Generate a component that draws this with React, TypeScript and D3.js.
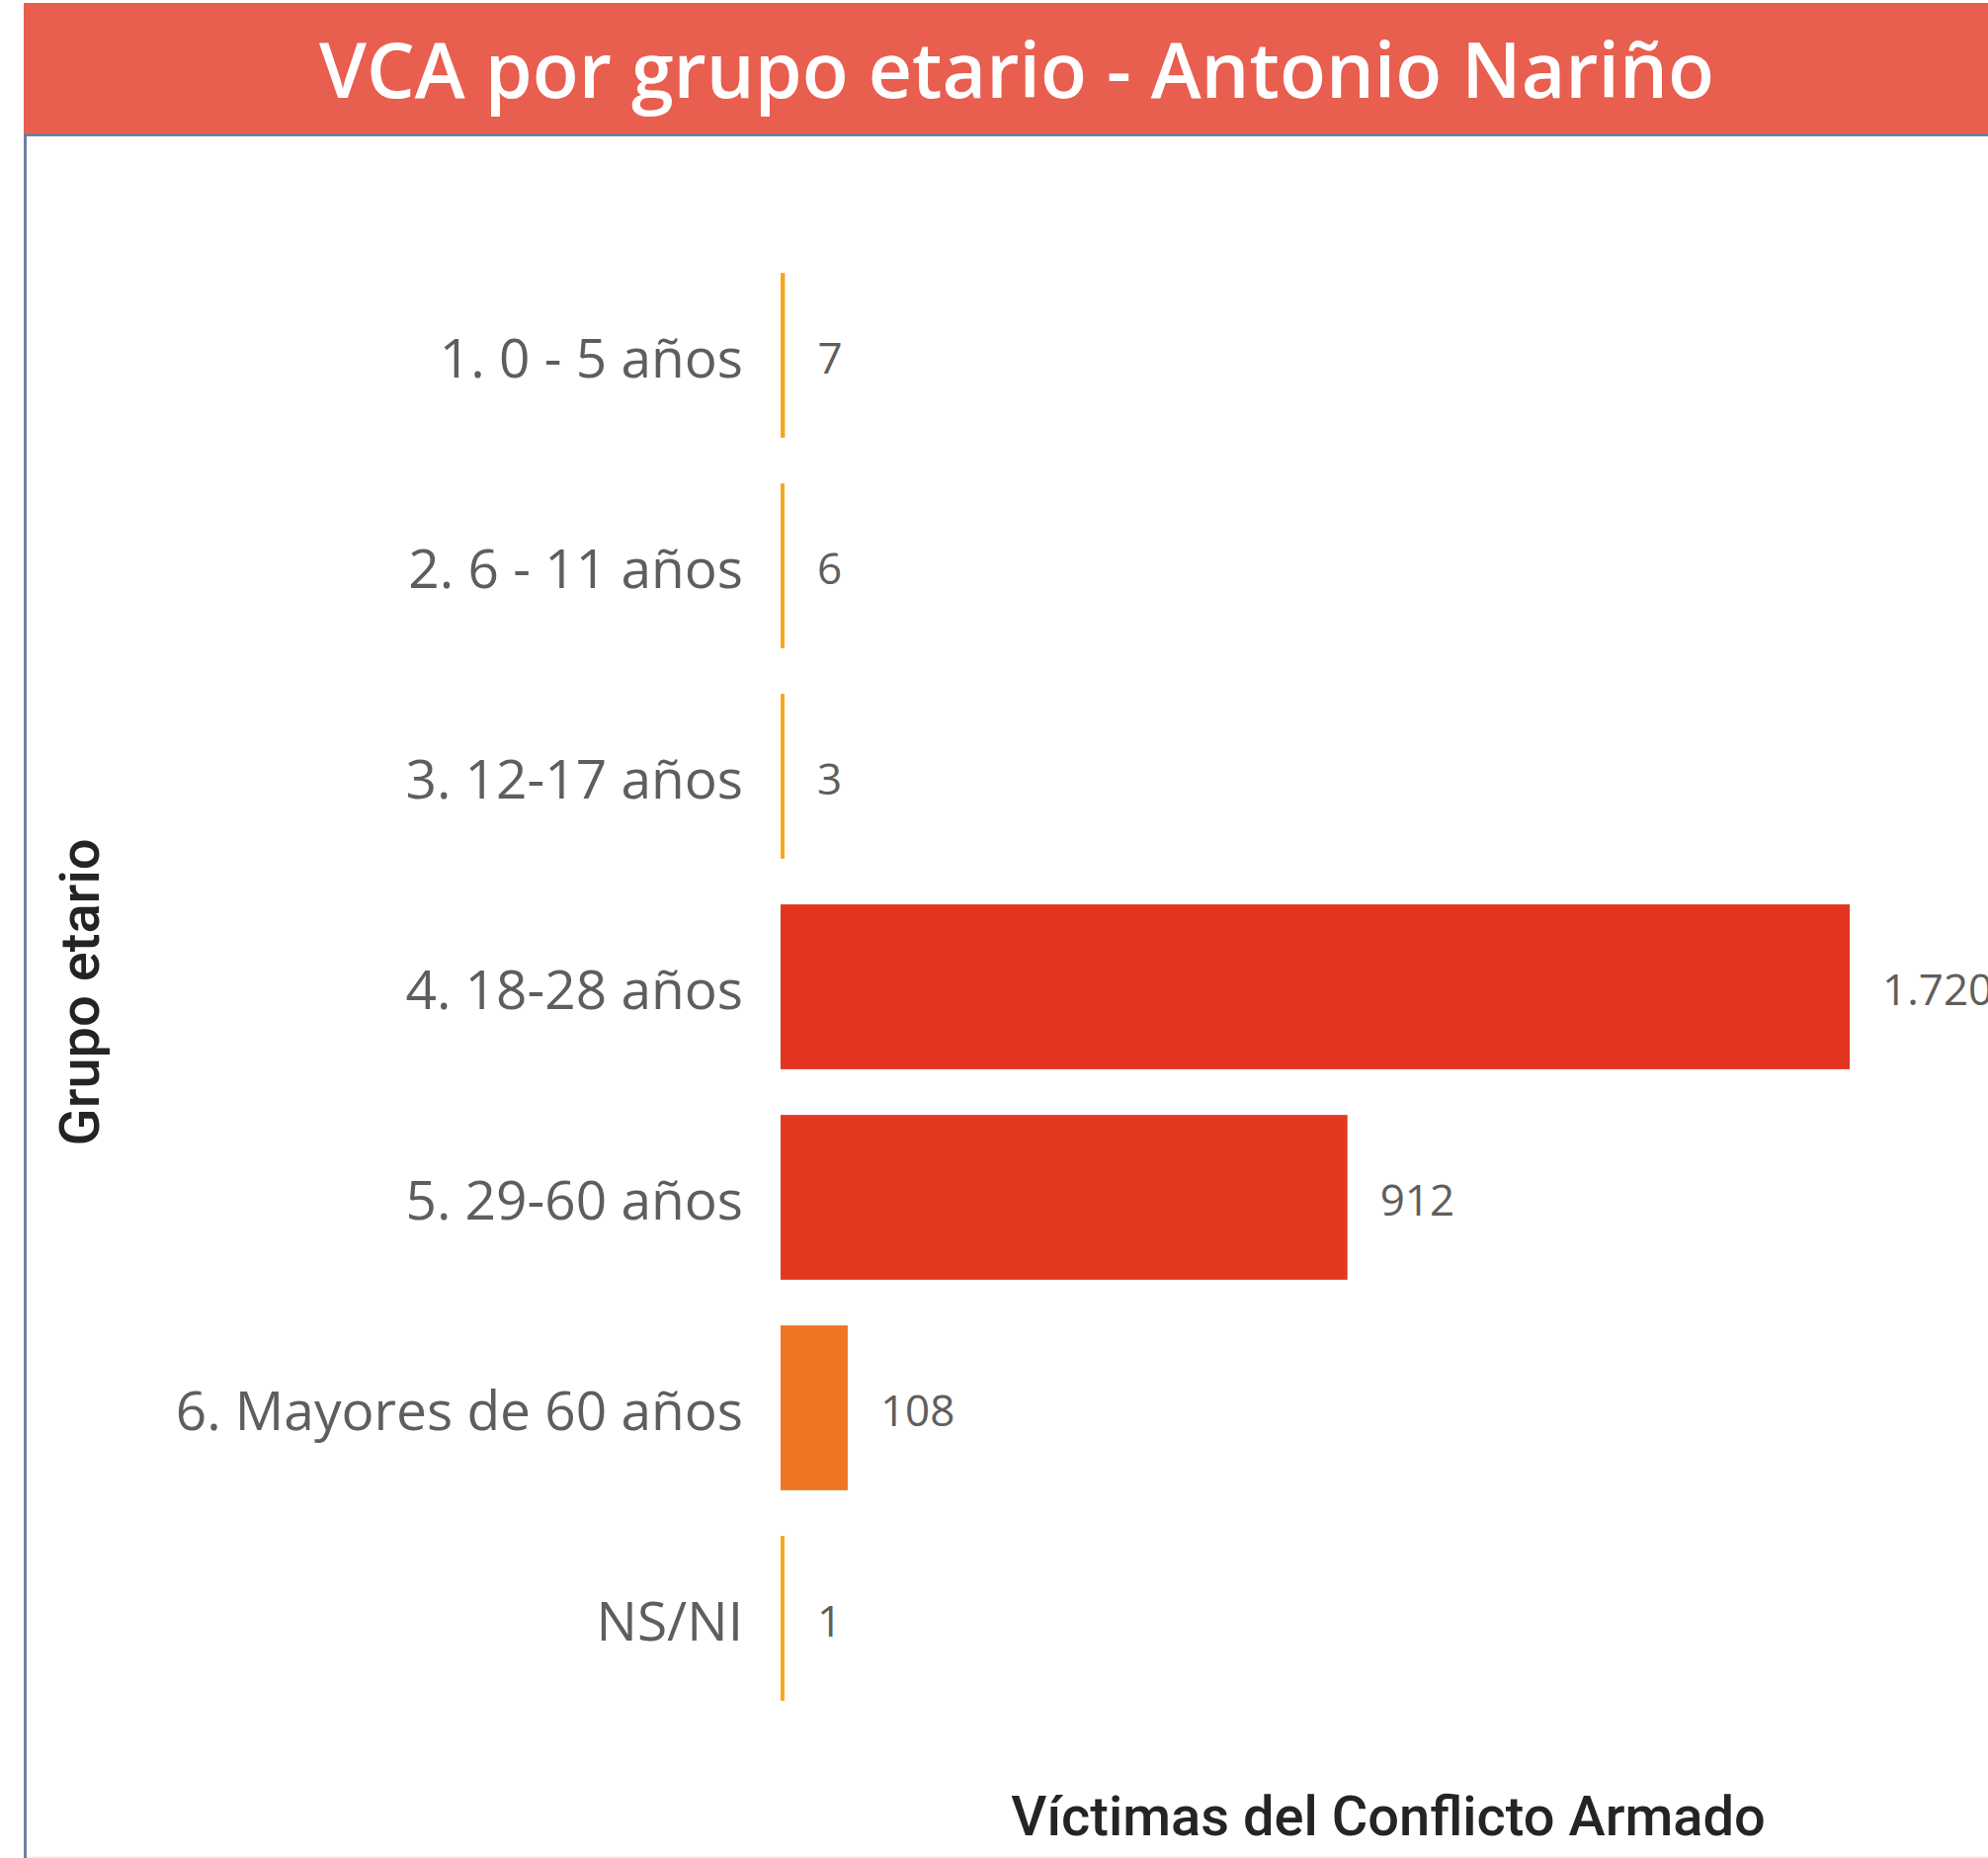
import React from 'react';
import * as d3 from 'd3';

// grupos etarios (eje y) y víctimas por grupo (eje x)
const categories = [
  '1. 0 - 5 años',
  '2. 6 - 11 años',
  '3. 12-17 años',
  '4. 18-28 años',
  '5. 29-60 años',
  '6. Mayores de 60 años',
  'NS/NI',
];
const victims = [7, 6, 3, 1720, 912, 108, 1];

const title = 'VCA por grupo etario - Antonio Nariño';
const xTitle = 'Víctimas del Conflicto Armado';
const yTitle = 'Grupo etario';

// gradient colors (low -> mid -> high), like the conditional formatting
const colorStops = ['#F6AA1C', '#EE7623', '#E2341F'];

const WIDTH = 2012;
const HEIGHT = 1880;
const margin = { top: 253, right: 140, bottom: 136, left: 790 };
const frameX = 24;

// spanish number format: 1.720
const esLocale = d3.formatLocale({
  decimal: ',',
  thousands: '.',
  grouping: [3],
  currency: ['$', ''],
});
const fmt = esLocale.format(',d');

const labelFont = '"Segoe UI", "Open Sans", "Noto Sans", sans-serif';
const titleFont = '"DIN", Roboto, "Noto Sans", sans-serif';

const App = () => {
  const y = d3.scaleBand<string>()
    .domain(categories)
    .range([margin.top, HEIGHT - margin.bottom])
    .paddingInner(0.217)
    .paddingOuter(0.1085);

  const x = d3.scaleLinear()
    .domain([0, d3.max(victims) as number])
    .range([margin.left, WIDTH - margin.right]);

  const color = d3.scaleLinear<string>()
    .domain([0, 100, 1000])
    .range(colorStops)
    .clamp(true);

  // power bi keeps tiny bars visible
  const barWidth = (v: number) => Math.max(x(v) - x(0), 4);

  return (
    <div style={{ position: 'absolute', left: 0, top: 0 }}>
      <svg width={WIDTH} height={HEIGHT} style={{ display: 'block', background: '#fff' }}>
        {/* header + frame */}
        <rect x={frameX} y={3} width={WIDTH - frameX} height={133} fill="#E85E4F" />
        <rect x={frameX} y={135} width={WIDTH - frameX} height={3} fill="#6F7F99" />
        <rect x={frameX} y={135} width={3} height={HEIGHT - 135} fill="#6F7F99" />
        <rect x={frameX + 3} y={HEIGHT - 1.5} width={WIDTH - frameX} height={1.5} fill="#EEEEEE" />
        <text
          x={1029}
          y={99}
          textAnchor="middle"
          fill="#fff"
          fontFamily={labelFont}
          fontWeight={600}
          fontSize={77}
        >
          {title}
        </text>

        {/* category labels */}
        <g fontFamily={labelFont} fontSize={55} fill="#605E5C">
          {categories.map((c) => (
            <text
              key={c}
              x={margin.left - 38}
              y={(y(c) as number) + y.bandwidth() / 2}
              dy="0.4em"
              textAnchor="end"
            >
              {c}
            </text>
          ))}
        </g>

        {/* bars */}
        {categories.map((c, i) => (
          <rect
            key={`bar-${c}`}
            x={x(0)}
            y={y(c)}
            width={barWidth(victims[i])}
            height={y.bandwidth()}
            fill={color(victims[i])}
          />
        ))}

        {/* data labels */}
        <g fontFamily={labelFont} fontSize={44} fill="#605E5C">
          {categories.map((c, i) => (
            <text
              key={`lbl-${c}`}
              x={x(0) + barWidth(victims[i]) + 33}
              y={(y(c) as number) + y.bandwidth() / 2}
              dy="0.42em"
            >
              {fmt(victims[i])}
            </text>
          ))}
        </g>

        {/* axis titles */}
        <text
          x={1405}
          y={1857}
          textAnchor="middle"
          fontFamily={titleFont}
          fontWeight={500}
          fontSize={56}
          fill="#252423"
        >
          {xTitle}
        </text>
        <text
          transform={`translate(100, 1004) rotate(-90)`}
          textAnchor="middle"
          fontFamily={titleFont}
          fontWeight={500}
          fontSize={56}
          fill="#252423"
        >
          {yTitle}
        </text>
      </svg>
    </div>
  );
};

export default App;
